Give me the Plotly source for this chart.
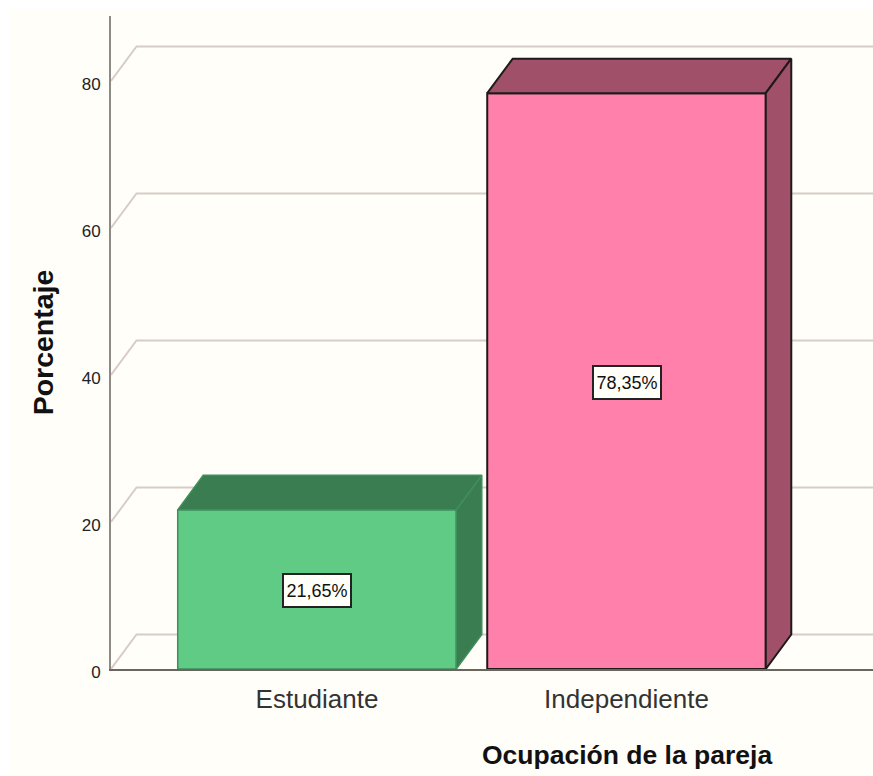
import plotly.graph_objects as go

# Datos
categorias = ['Estudiante', 'Independiente']
porcentajes = [21.65, 78.35]
y_ticks = [0, 20, 40, 60, 80]

colores_frente = ['#5FCB84', '#FF80AA']
colores_lado = ['#3A7D50', '#A05068']
colores_borde = ['#3F8F5C', '#1E1A1C']

# Geometria en pixeles de la pagina
IZQ, DER, ARRIBA, ABAJO = 111, 873, 16, 669
PX_Y = 7.35       # pixeles por punto porcentual
PX_X = 309.5      # pixeles entre categorias
CENTRO_0 = 317    # pixel de la primera categoria
ANCHO = 0.9
DX = 25.5 / PX_X  # profundidad
DY = 34.5 / PX_Y

W, H = 873, 776

fig = go.Figure()

fig.add_trace(go.Bar(
    x=list(range(len(categorias))), y=porcentajes, width=ANCHO,
    marker=dict(color=colores_frente, line=dict(color=colores_borde, width=[1.5, 2])),
    hoverinfo='skip', showlegend=False,
))

# Caras lateral y superior del efecto 3D
for i, v in enumerate(porcentajes):
    x0, x1 = i - ANCHO / 2, i + ANCHO / 2
    caras = [
        ([x0, x1, x1 + DX, x0 + DX, x0], [v, v, v + DY, v + DY, v]),
        ([x1, x1 + DX, x1 + DX, x1, x1], [0, DY, v + DY, v, 0]),
    ]
    for xs, ys in caras:
        fig.add_trace(go.Scatter(
            x=xs, y=ys, mode='lines', fill='toself', fillcolor=colores_lado[i],
            line=dict(color=colores_borde[i], width=1.5 if i == 0 else 2),
            hoverinfo='skip', showlegend=False,
        ))

# Fondo crema y paredes del grafico
x_izq = (IZQ - CENTRO_0) / PX_X
x_der = (DER - CENTRO_0) / PX_X
formas = [dict(
    type='rect', xref='paper', yref='paper', layer='below',
    x0=(10 - IZQ) / (DER - IZQ), x1=1,
    y0=(ABAJO - H) / (ABAJO - ARRIBA), y1=(ABAJO - 9) / (ABAJO - ARRIBA),
    fillcolor='#FFFEF8', line=dict(width=0),
)]
for t in y_ticks:
    formas.append(dict(
        type='path', layer='below',
        path=f'M {x_izq} {t} L {x_izq + DX} {t + DY} L {x_der} {t + DY}',
        line=dict(color='#D8CCC8', width=2),
    ))

# Etiquetas de valor
anotaciones = []
for i, v in enumerate(porcentajes):
    anotaciones.append(dict(
        x=i, y=v / 2, text=f'{v:.2f}'.replace('.', ',') + '%', showarrow=False,
        font=dict(family='Liberation Sans', size=18, color='#111111'),
        bgcolor='#FFFEF8', bordercolor='#222222', borderwidth=2,
        width=64, height=29, yshift=-1,
    ))
anotaciones.append(dict(
    x=1, y=(ABAJO - 755) / (ABAJO - ARRIBA), yref='paper', yanchor='middle',
    text='<b>Ocupación de la pareja</b>', showarrow=False,
    font=dict(family='Liberation Sans', size=26.5, color='#111111'),
))

fig.update_layout(
    width=W, height=H,
    margin=dict(l=IZQ, r=W - DER, t=ARRIBA, b=H - ABAJO, pad=0),
    paper_bgcolor='white', plot_bgcolor='rgba(0,0,0,0)',
    shapes=formas, annotations=anotaciones,
    showlegend=False,
    xaxis=dict(
        range=[x_izq, x_der], tickmode='array',
        tickvals=list(range(len(categorias))), ticktext=categorias,
        showgrid=False, zeroline=False, ticks='', ticklabelstandoff=6,
        showline=True, linecolor='#6B6560', linewidth=2,
        tickfont=dict(family='Liberation Sans', size=26, color='#333333'),
    ),
    yaxis=dict(
        range=[0, (ABAJO - ARRIBA) / PX_Y], tickmode='array', tickvals=y_ticks,
        showgrid=False, zeroline=False, ticks='', ticklabelstandoff=5,
        ticklabelshift=3,
        showline=True, linecolor='#8F8A85', linewidth=2,
        tickfont=dict(family='Liberation Sans', size=17, color='#222222'),
        title=dict(
            text='<b>Porcentaje</b>', standoff=20,
            font=dict(family='Liberation Sans', size=28.5, color='#111111'),
        ),
    ),
)

fig.write_html('out.html', config=dict(displayModeBar=False),
               post_script="document.body.style.margin='0';")
